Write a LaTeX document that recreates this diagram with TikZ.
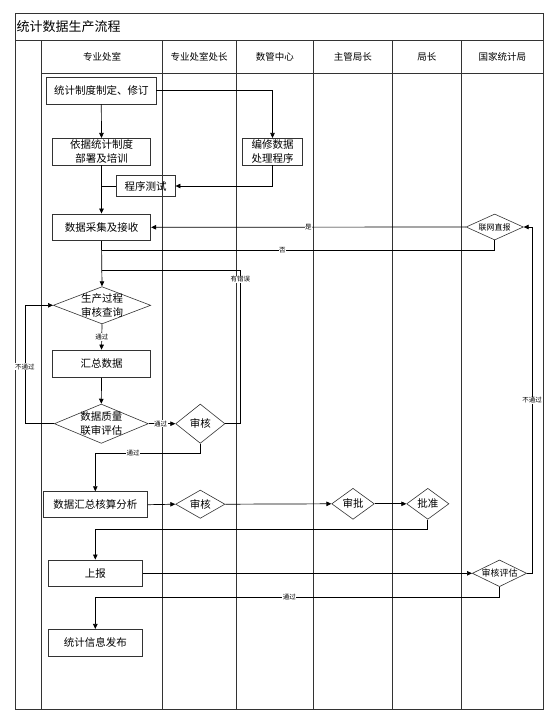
\documentclass[tikz,border=0pt]{standalone}
\usepackage{fontspec}
\setmainfont{Noto Sans CJK SC}
\usetikzlibrary{shapes.geometric,arrows.meta}
\tikzset{
 lane/.style={draw=black!80, line width=0.8pt},
 box/.style={draw=black!80, line width=0.8pt, rectangle, inner sep=0pt, font=\fontsize{10.5}{14}\selectfont, align=center},
 dec/.style={draw=black!80, line width=0.6pt, diamond, inner sep=0pt},
 dectext/.style={inner sep=0pt, font=\fontsize{10.5}{13.5}\selectfont, align=center},
 conn/.style={draw=black, line width=0.7pt},
 arr/.style={conn, -{Triangle[length=5pt,width=4.5pt]}},
 lbl/.style={font=\fontsize{6.5}{7}\selectfont, fill=white, inner sep=0.6pt},
 hdr/.style={font=\fontsize{9.5}{11}\selectfont, inner sep=0pt},
}
\begin{document}
\begin{tikzpicture}[x=1pt,y=-1pt]
\useasboundingbox (0,0) rectangle (556,723);
% frame and lanes
\draw[lane] (15,13.3) rectangle (543.3,709);
\draw[lane] (15,40) -- (543.3,40);
\draw[lane] (41.7,73.3) -- (543.3,73.3);
\foreach \x in {41.7,162.3,236,313.5,392.3,461.3} \draw[lane] (\x,40) -- (\x,709);
\node[anchor=west, font=\fontsize{13}{15}\selectfont, inner sep=0pt] (title) at (16.5,26.7) {统计数据生产流程};
\node[hdr] (h1) at (102,57) {专业处室};
\node[hdr] (h2) at (199.2,57) {专业处室处长};
\node[hdr] (h3) at (274.8,57) {数管中心};
\node[hdr] (h4) at (352.9,57) {主管局长};
\node[hdr] (h5) at (426.8,57) {局长};
\node[hdr] (h6) at (502.3,57) {国家统计局};
% boxes
\node[box, minimum width=109.3pt, minimum height=26.7pt] (b1) at (101.3,90.7) {统计制度制定、修订};
\node[box, minimum width=98.4pt, minimum height=26.7pt] (b2) at (101.5,151.7) {依据统计制度\\部署及培训};
\node[box, minimum width=59.6pt, minimum height=26.7pt] (b3) at (272.5,151.7) {编修数据\\处理程序};
\node[box, minimum width=58.7pt, minimum height=21.4pt] (b4) at (145.7,186) {程序测试};
\node[box, minimum width=98.4pt, minimum height=26.7pt] (b5) at (101.5,227.3) {数据采集及接收};
\node[box, minimum width=98.4pt, minimum height=27.3pt] (b6) at (101.5,363.7) {汇总数据};
\node[box, minimum width=104pt, minimum height=26pt] (b7) at (95.3,504.7) {数据汇总核算分析};
\node[box, minimum width=94pt, minimum height=26.7pt] (b8) at (95.3,573.3) {上报};
\node[box, minimum width=94pt, minimum height=26.7pt] (b9) at (95.3,642.7) {统计信息发布};
% diamonds
\node[dec, minimum width=57.3pt, minimum height=26pt] (d1) at (494.7,227) {};
\node[dectext, font=\fontsize{8}{10}\selectfont] (d1t) at (d1) {联网直报};
\node[dec, minimum width=97.4pt, minimum height=37.3pt] (d2) at (102,305.3) {};
\node[dectext] (d2t) at (d2) {生产过程\\审核查询};
\node[dec, minimum width=94pt, minimum height=39.3pt] (d3) at (101.3,423.7) {};
\node[dectext] (d3t) at (d3) {数据质量\\联审评估};
\node[dec, minimum width=49.3pt, minimum height=39.3pt] (d4) at (200.3,423.7) {};
\node[dectext] (d4t) at (d4) {审核};
\node[dec, minimum width=49.3pt, minimum height=28.3pt] (d5) at (200.3,504.2) {};
\node[dectext] (d5t) at (d5) {审核};
\node[dec, minimum width=42.6pt, minimum height=31pt] (d6) at (353,503.8) {};
\node[dectext] (d6t) at (d6) {审批};
\node[dec, minimum width=42.3pt, minimum height=31pt] (d7) at (427.8,503.8) {};
\node[dectext] (d7t) at (d7) {批准};
\node[dec, minimum width=54.4pt, minimum height=26.7pt] (d8) at (499.5,573.3) {};
\node[dectext, font=\fontsize{9}{10}\selectfont] (d8t) at (d8) {审核评估};
% junction coordinates
\coordinate (j1) at (101.5,250);
\coordinate (j2) at (101.5,270);
\coordinate (k1) at (25,423.7);
% connectors
\draw[arr] (b1.east) -| (b3.north);
\draw[arr] (b1.south) -- (b2.north);
\draw[arr] (b3.south) |- (b4.east);
\draw[conn] (b4.west) -- (b2.south |- b4.west);
\draw[arr] (b2.south) -- (b5.north);
\draw[arr] (d1.west) -- (b5.east) node[lbl, pos=0.5] (l1) {是};
\draw[conn] (d1.south) |- (j1) node[lbl, pos=0.77] (l2) {否};
\draw[arr] (b5.south) -- (d2.north);
\draw[conn] (d4.east) -- ++(15,0) |- (j2) node[lbl, pos=0.47] (l3) {有错误};
\draw[arr] (d2.south) -- (b6.north) node[lbl, pos=0.5] (l4) {通过};
\draw[arr] (b6.south) -- (d3.north);
\draw[arr] (d3.west) -- (k1) |- (d2.west) node[lbl, pos=0.24] (l5) {不通过};
\draw[arr] (d3.east) -- (d4.west) node[lbl, pos=0.45] (l6) {通过};
\draw[arr] (d4.south) -- ++(0,9.4) -| (b7.north) node[lbl, pos=0.32] (l7) {通过};
\draw[arr] (b7.east) -- (d5.west);
\draw[arr] (d5.east) -- (d6.west);
\draw[arr] (d6.east) -- (d7.west);
\draw[arr] (d7.south) -- ++(0,10) -| (b8.north);
\draw[arr] (b8.east) -- (d8.west);
\draw[arr] (d8.east) -- ++(5,0) |- (d1.east) node[lbl, pos=0.25] (l8) {不通过};
\draw[arr] (d8.south) -- ++(0,10) -| (b9.north) node[lbl, pos=0.26] (l9) {通过};
\end{tikzpicture}
\end{document}
